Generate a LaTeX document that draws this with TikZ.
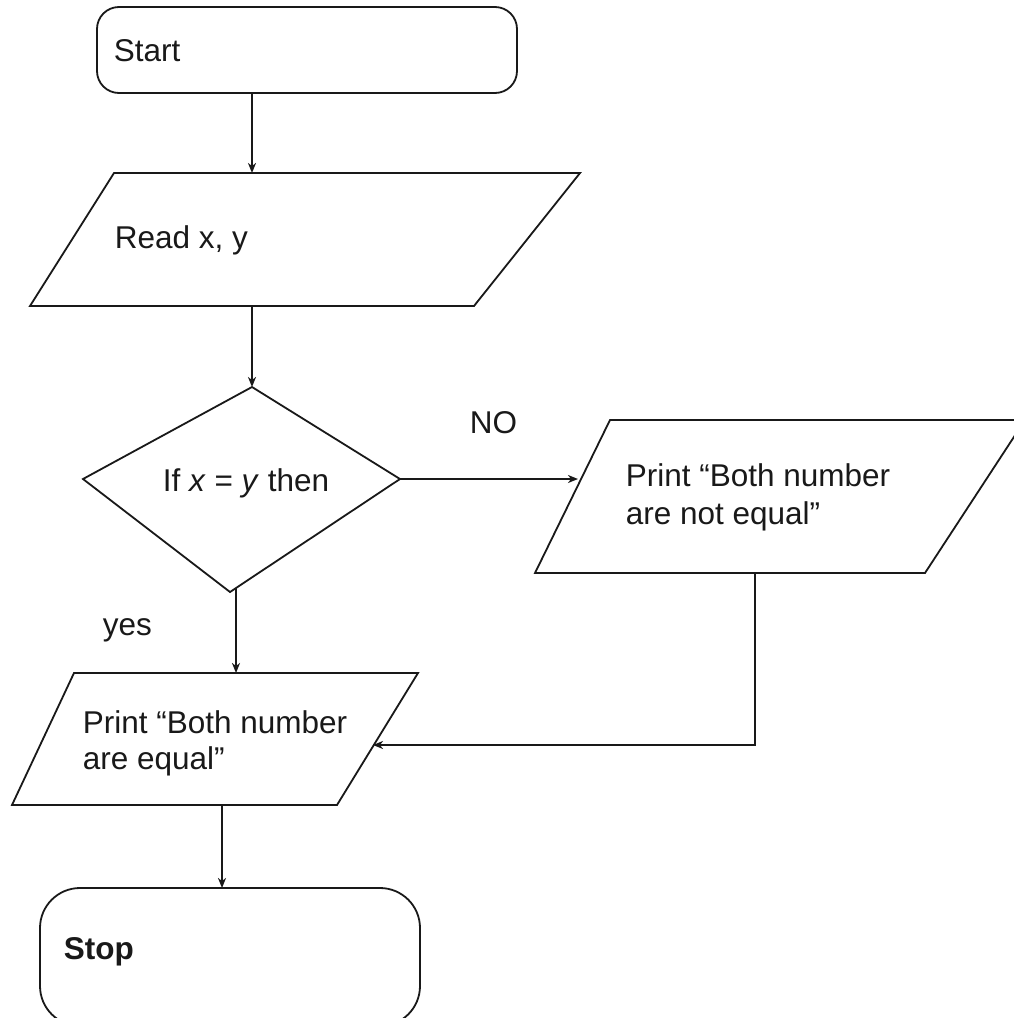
\documentclass[tikz,border=0pt]{standalone}
\usepackage{fontspec}
\setmainfont{Liberation Sans}
\usetikzlibrary{arrows.meta}
\begin{document}
\begin{tikzpicture}[x=1pt,y=-1pt, line width=1.8pt, line join=miter,
  outline/.style={draw=black!90},
  conn/.style={draw=black!90, -{Stealth[length=10pt,width=8pt,inset=3pt]}},
  txt/.style={inner sep=0pt, anchor=base west, font=\fontsize{31.5}{37}\selectfont, text=black!90}]
\useasboundingbox (0,0) rectangle (1014,1018);
\clip (0,0) rectangle (1014,1018);
\fill[white] (0,0) rectangle (1014,1018);

% Start
\draw[outline, rounded corners=22pt] (97,7) rectangle (517,93);
\node[txt] (tstart) at (113,61) {Start};
\coordinate (startS) at (252,93);

% Read
\coordinate (readN) at (252,173);
\coordinate (readS) at (252,306);
\draw[outline] (114,173) -- (580,173) -- (474,306) -- (30,306) -- cycle;
\node[txt] (tread) at (114,248) {Read x, y};

% Decision
\coordinate (dN) at (252,387);
\coordinate (dE) at (400,479);
\coordinate (dS) at (236,588);
\draw[outline] (252,387) -- (400,479) -- (230,592) -- (83,479) -- cycle;
\node[txt] (tif) at (162,491) {If \textit{x} = \textit{y} then};

% Not equal output
\coordinate (neW) at (578,479);
\coordinate (neS) at (755,573);
\coordinate (bend) at (755,745);
\draw[outline] (610,420) -- (1025,420) -- (925,573) -- (535,573) -- cycle;
\node[txt] (tne1) at (625,486) {Print “Both number};
\node[txt] (tne2) at (625,524) {are not equal”};
\node[txt] (tno) at (469,433) {NO};

% Equal output
\coordinate (eqN) at (236,673);
\coordinate (eqE) at (373,745);
\coordinate (eqS) at (222,805);
\draw[outline] (74,673) -- (418,673) -- (337,805) -- (12,805) -- cycle;
\node[txt] (teq1) at (82,733) {Print “Both number};
\node[txt] (teq2) at (82,769) {are equal”};
\node[txt] (tyes) at (102,635) {yes};

% Stop
\coordinate (stopN) at (222,888);
\draw[outline, rounded corners=40pt] (40,888) rectangle (420,1026);
\node[txt, font=\fontsize{31.5}{37}\selectfont\bfseries] (tstop) at (63,959) {Stop};

% connectors
\draw[conn] (startS) -- (readN);
\draw[conn] (readS) -- (dN);
\draw[conn] (dE) -- (neW);
\draw[conn] (dS) -- (eqN);
\draw[conn] (neS) -- (bend) -- (eqE);
\draw[conn] (eqS) -- (stopN);
\end{tikzpicture}
\end{document}
